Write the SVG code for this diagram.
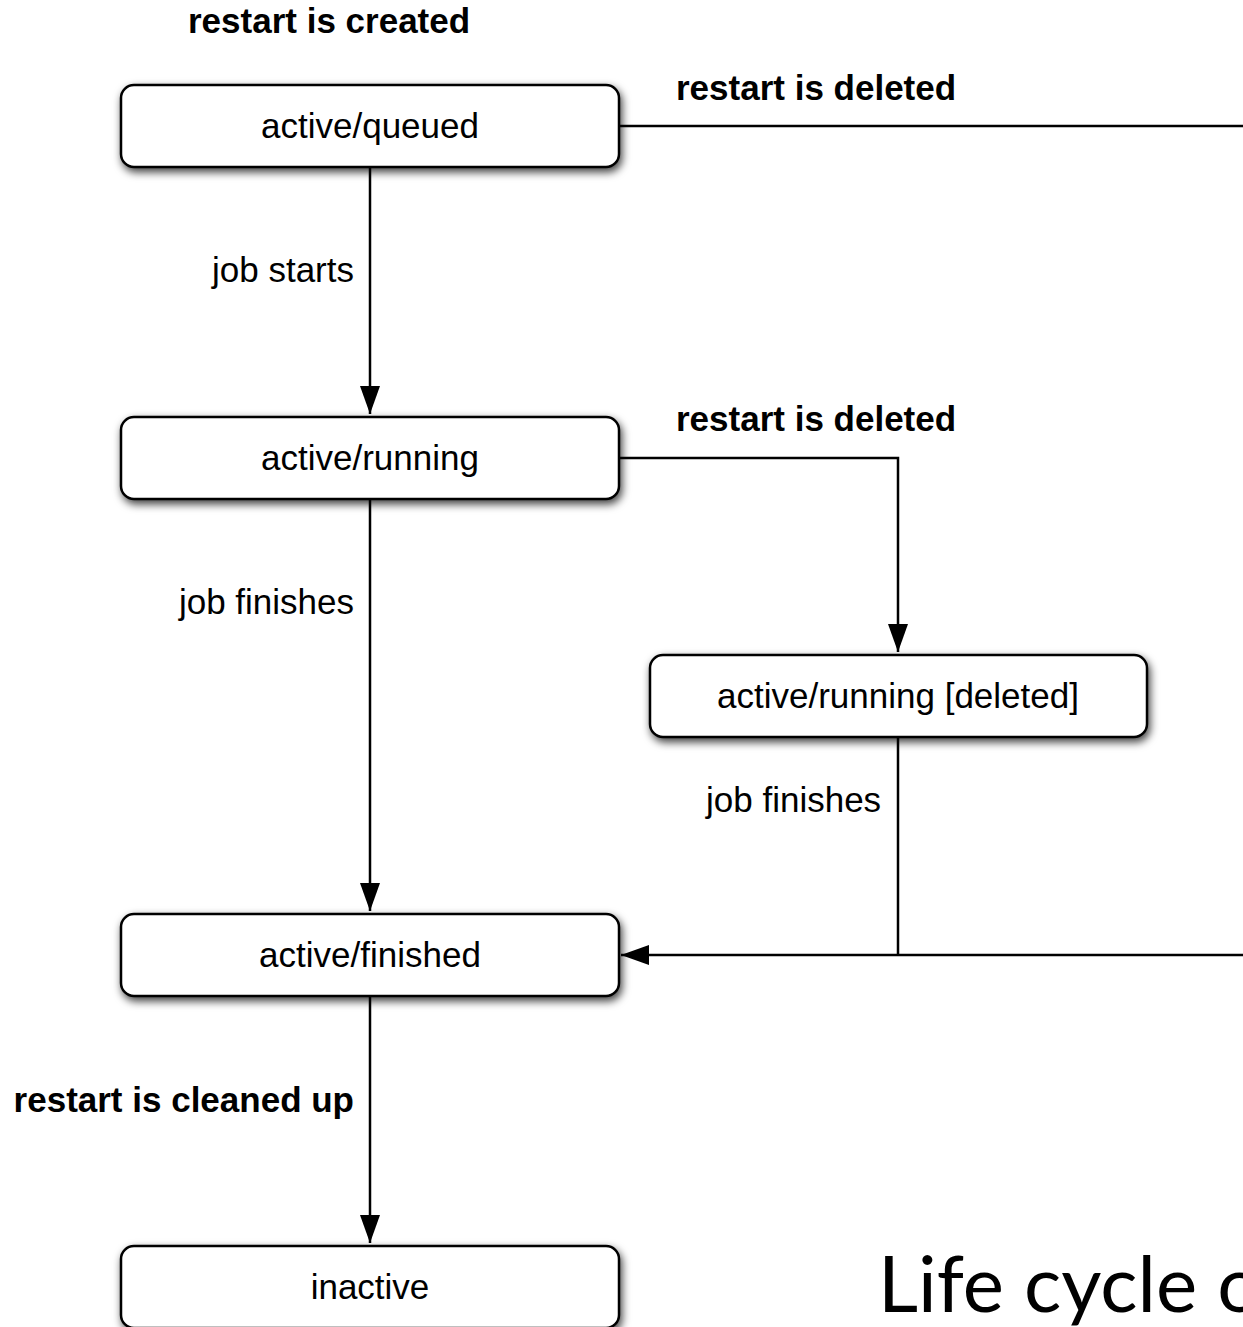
<svg xmlns="http://www.w3.org/2000/svg" width="1243" height="1327" viewBox="0 0 1243 1327">
<style>
.box{fill:#fff;stroke:#000;stroke-width:2.5}
.nt{font-family:"Liberation Sans",Arial,sans-serif;font-size:35px;fill:#000;text-anchor:middle}
.lb{font-family:"Liberation Sans",Arial,sans-serif;font-size:35px;fill:#000}
.b{font-weight:bold}
.r{text-anchor:end}
.ln{fill:none;stroke:#000;stroke-width:2.5}
.title{font-family:"Lato","Open Sans",sans-serif;font-size:78px;fill:#000}
</style>
<defs>
<filter id="sh" x="-10%" y="-30%" width="120%" height="170%">
<feDropShadow dx="2" dy="4" stdDeviation="4" flood-color="#000" flood-opacity="0.75"/>
</filter>
<marker id="ah" viewBox="0 0 28 20" refX="28" refY="10" markerWidth="28" markerHeight="20" markerUnits="userSpaceOnUse" orient="auto">
<path d="M0,0 L28,10 L0,20 Z" fill="#000"/>
</marker>
</defs>
<rect width="1243" height="1327" fill="#fff"/>
<g id="connectors">
<path class="ln" d="M619,126 H1245"/>
<path class="ln" d="M370,167 V414" marker-end="url(#ah)"/>
<path class="ln" d="M619,458 H898 V652" marker-end="url(#ah)"/>
<path class="ln" d="M370,499 V911" marker-end="url(#ah)"/>
<path class="ln" d="M898,737 V955"/>
<path class="ln" d="M1245,955 H621" marker-end="url(#ah)"/>
<path class="ln" d="M370,996 V1243" marker-end="url(#ah)"/>
</g>
<g id="labels">
<text class="lb b" x="188" y="33">restart is created</text>
<text class="lb b" x="676" y="100">restart is deleted</text>
<text class="lb r" x="354" y="282">job starts</text>
<text class="lb b" x="676" y="431">restart is deleted</text>
<text class="lb r" x="354" y="614">job finishes</text>
<text class="lb" x="706" y="812">job finishes</text>
<text class="lb b r" x="354" y="1112">restart is cleaned up</text>
</g>
<g id="node-queued">
<rect class="box" x="121" y="85" width="498" height="82" rx="13" filter="url(#sh)"/>
<text class="nt" x="370" y="138">active/queued</text>
</g>
<g id="node-running">
<rect class="box" x="121" y="417" width="498" height="82" rx="13" filter="url(#sh)"/>
<text class="nt" x="370" y="470">active/running</text>
</g>
<g id="node-running-deleted">
<rect class="box" x="650" y="655" width="497" height="82" rx="13" filter="url(#sh)"/>
<text class="nt" x="898" y="708">active/running [deleted]</text>
</g>
<g id="node-finished">
<rect class="box" x="121" y="914" width="498" height="82" rx="13" filter="url(#sh)"/>
<text class="nt" x="370" y="967">active/finished</text>
</g>
<g id="node-inactive">
<rect class="box" x="121" y="1246" width="498" height="82" rx="13" filter="url(#sh)"/>
<text class="nt" x="370" y="1299">inactive</text>
</g>
<text class="title" x="878" y="1312">Life cycle o</text>
</svg>
